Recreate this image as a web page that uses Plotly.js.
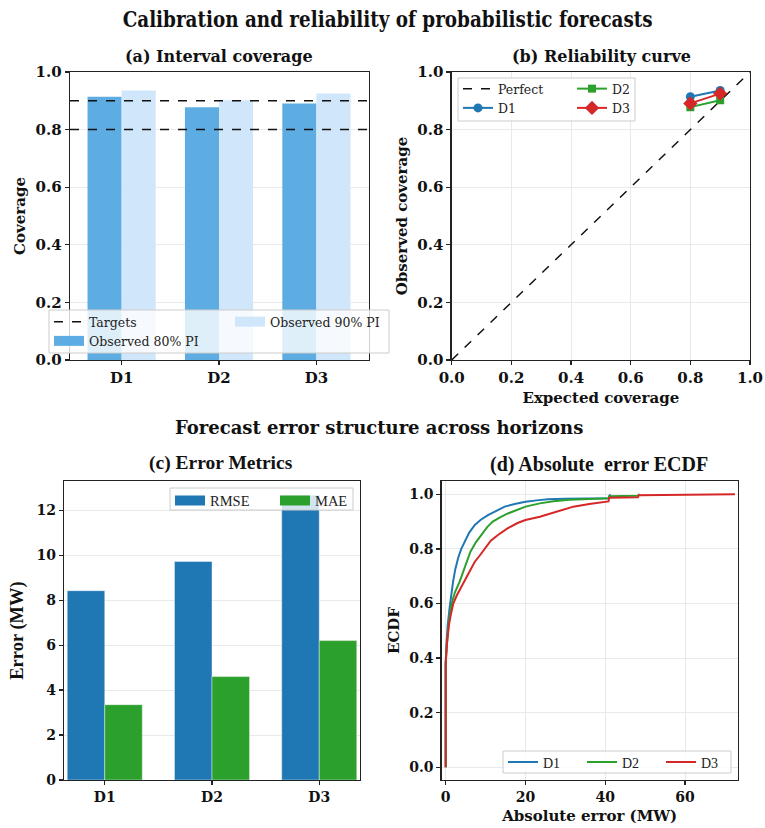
<!DOCTYPE html>
<html>
<head>
<meta charset="utf-8">
<script src="https://cdn.plot.ly/plotly-3.0.1.min.js"></script>
<style>
html,body{margin:0;padding:0;background:#fff;}
#chart{width:765px;height:828px;}
</style>
</head>
<body>
<div id="chart"></div>
<script>
// ---------------- DATA ----------------
const horizons = ['D1', 'D2', 'D3'];
const targets = [0.8, 0.9];
const cov80 = [0.914, 0.878, 0.891];
const cov90 = [0.936, 0.902, 0.925];
const expectedLevels = [0.8, 0.9];
const perfectX = [0, 1];
const perfectY = [0, 1];
const rmse = [8.42, 9.72, 12.67];
const mae = [3.35, 4.60, 6.20];

const ecdfD1x = [0, 0, 0.2, 0.5, 0.95, 1.4, 1.85, 2.4, 3.1, 3.9, 4.75, 5.9, 7.3, 8.8, 10.6, 12.6, 14.8, 17.3, 20, 22.8, 25.6, 30, 35, 40.9, 41, 41.3];
const ecdfD1y = [0, 0.38, 0.45, 0.52, 0.58, 0.64, 0.68, 0.725, 0.766, 0.80, 0.826, 0.86, 0.888, 0.907, 0.924, 0.94, 0.955, 0.965, 0.973, 0.978, 0.982, 0.984, 0.985, 0.986, 0.993, 1.0];
const ecdfD2x = [0, 0, 0.3, 0.8, 1.5, 2.3, 3.5, 4.8, 6.2, 7.6, 9.0, 10.4, 11.8, 13.5, 15.6, 17.8, 20, 23.6, 27, 31, 36, 40.9, 41, 48.2, 48.4, 48.6];
const ecdfD2y = [0, 0.38, 0.45, 0.53, 0.6, 0.64, 0.68, 0.735, 0.79, 0.825, 0.853, 0.88, 0.9, 0.915, 0.93, 0.944, 0.955, 0.967, 0.975, 0.98, 0.984, 0.986, 0.993, 0.995, 0.999, 1.0];
const ecdfD3x = [0, 0, 0.3, 0.8, 1.3, 1.9, 2.8, 3.7, 4.75, 6.0, 7.3, 8.5, 9.8, 11.3, 13.1, 15.5, 18, 20, 23.6, 27.7, 32, 36, 40.8, 41, 48.2, 48.4, 72.3, 72.5];
const ecdfD3y = [0, 0.38, 0.45, 0.52, 0.56, 0.6, 0.63, 0.655, 0.68, 0.72, 0.753, 0.775, 0.802, 0.83, 0.851, 0.875, 0.895, 0.906, 0.918, 0.935, 0.955, 0.965, 0.974, 0.988, 0.989, 0.997, 0.998, 1.0];

// ---------------- STYLE ----------------
const W = 765, H = 828;
const px = v => v / W;
const py = v => 1 - v / H;
const C_BLUE = '#1f77b4', C_GREEN = '#2ca02c', C_RED = '#d62728';
const C80 = '#5DADE2', C90 = '#D0E6FA';
const SERIF = 'DejaVu Serif';
const TIMES = 'Liberation Serif';
const tickFont = (s) => ({family: SERIF, size: s, color: '#111', weight: 'bold'});
const titleFont = (fam, s) => ({family: fam, size: s, color: '#111', weight: 'bold'});

function axisBase(extra) {
  return Object.assign({
    showline: true, linecolor: '#222', linewidth: 1.3, mirror: true,
    ticks: 'outside', ticklen: 4, tickwidth: 1.2, tickcolor: '#222',
    zeroline: false, gridcolor: '#e9e9e9', gridwidth: 1,
    automargin: false, fixedrange: true
  }, extra);
}

// legend-only swatch (wide rectangle like a patch)
function swatch(name, color, xa, ya, leg) {
  return {type: 'scatter', mode: 'lines', x: [null], y: [null], name: name,
    line: {color: color, width: 10}, xaxis: xa, yaxis: ya, legend: leg, showlegend: true, hoverinfo: 'skip'};
}

// ---------------- TRACES ----------------
const traces = [];
// (a)
traces.push({type: 'scatter', mode: 'lines', x: [null], y: [null], name: 'Targets',
  line: {color: '#111', dash: 'dash', width: 1.5}, xaxis: 'x', yaxis: 'y', legend: 'legend', showlegend: true, hoverinfo: 'skip'});
traces.push({type: 'bar', x: horizons, y: cov80, name: 'Observed 80% PI', width: 0.35, offset: -0.35,
  marker: {color: C80, line: {width: 0}}, xaxis: 'x', yaxis: 'y', showlegend: false});
traces.push({type: 'bar', x: horizons, y: cov90, name: 'Observed 90% PI', width: 0.35, offset: 0,
  marker: {color: C90, line: {width: 0}}, xaxis: 'x', yaxis: 'y', showlegend: false});
traces.push(swatch('Observed 80% PI', C80, 'x', 'y', 'legend'));
traces.push(swatch('Observed 90% PI', C90, 'x', 'y', 'legend2'));
// (b)
traces.push({type: 'scatter', mode: 'lines', x: perfectX, y: perfectY, name: 'Perfect',
  line: {color: '#111', dash: 'dash', width: 1.5}, xaxis: 'x2', yaxis: 'y2', legend: 'legend3'});
const relColors = [C_BLUE, C_GREEN, C_RED];
const relSymbols = ['circle', 'square', 'diamond'];
const relSizes = [9, 8, 11];
const relLegends = ['legend3', 'legend4', 'legend4'];
horizons.forEach((h, i) => {
  traces.push({type: 'scatter', mode: 'lines+markers', x: expectedLevels, y: [cov80[i], cov90[i]], name: h,
    line: {color: relColors[i], width: 2}, marker: {symbol: relSymbols[i], size: relSizes[i], color: relColors[i]},
    xaxis: 'x2', yaxis: 'y2', legend: relLegends[i]});
});
// (c)
traces.push({type: 'bar', x: horizons, y: rmse, name: 'RMSE', width: 0.35, offset: -0.35,
  marker: {color: C_BLUE, line: {width: 0.6, color: 'rgba(255,255,255,0.7)'}}, xaxis: 'x3', yaxis: 'y3', showlegend: false});
traces.push({type: 'bar', x: horizons, y: mae, name: 'MAE', width: 0.35, offset: 0,
  marker: {color: C_GREEN, line: {width: 0.6, color: 'rgba(255,255,255,0.7)'}}, xaxis: 'x3', yaxis: 'y3', showlegend: false});
traces.push(swatch('RMSE', C_BLUE, 'x3', 'y3', 'legend5'));
traces.push(swatch('MAE', C_GREEN, 'x3', 'y3', 'legend5'));
// (d)
const ecdfX = [ecdfD1x, ecdfD2x, ecdfD3x];
const ecdfY = [ecdfD1y, ecdfD2y, ecdfD3y];
horizons.forEach((h, i) => {
  traces.push({type: 'scatter', mode: 'lines', x: ecdfX[i], y: ecdfY[i], name: h,
    line: {color: relColors[i], width: 2}, xaxis: 'x4', yaxis: 'y4', legend: 'legend6'});
});

// ---------------- LAYOUT ----------------
const legBase = (x, y, extra) => Object.assign({
  x: x, y: y, xanchor: 'left', yanchor: 'top', xref: 'paper', yref: 'paper',
  bgcolor: 'rgba(0,0,0,0)', borderwidth: 0, tracegroupgap: 0,
  font: {family: SERIF, size: 12.5, color: '#222'}, orientation: 'v'
}, extra || {});

const shapes = [];
// target lines (a)
targets.forEach(t => shapes.push({type: 'line', xref: 'x domain', yref: 'y', x0: 0, x1: 1, y0: t, y1: t,
  line: {color: '#111', dash: 'dash', width: 1.5}, layer: 'above'}));
// legend boxes
function box(x0, y0, x1, y1) {
  shapes.push({type: 'rect', xref: 'paper', yref: 'paper', x0: px(x0), x1: px(x1), y0: py(y1), y1: py(y0),
    fillcolor: 'rgba(255,255,255,0.8)', line: {color: '#cccccc', width: 1}, layer: 'above'});
}
box(49, 310, 389, 353);
box(458, 78, 635, 121);
box(170, 488, 353, 510);
box(503, 751, 731, 773);

const annotations = [
  {text: 'Calibration and reliability of probabilistic forecasts', x: px(387), y: py(19), xref: 'paper', yref: 'paper',
    showarrow: false, xanchor: 'center', yanchor: 'middle', font: {family: SERIF, size: 22, color: '#111', weight: 'bold'}},
  {text: 'Forecast error structure across horizons', x: px(379), y: py(428), xref: 'paper', yref: 'paper',
    showarrow: false, xanchor: 'center', yanchor: 'middle', font: titleFont(SERIF, 18)},
  {text: '(a) Interval coverage', x: px(219.5), y: py(57), xref: 'paper', yref: 'paper',
    showarrow: false, xanchor: 'center', yanchor: 'middle', font: titleFont(SERIF, 16)},
  {text: '(b) Reliability curve', x: px(601), y: py(57), xref: 'paper', yref: 'paper',
    showarrow: false, xanchor: 'center', yanchor: 'middle', font: titleFont(SERIF, 16)},
  {text: '(c) Error Metrics', x: px(221), y: py(463), xref: 'paper', yref: 'paper',
    showarrow: false, xanchor: 'center', yanchor: 'middle', font: titleFont(TIMES, 19.5)},
  {text: '(d) Absolute  error ECDF', x: px(599), y: py(464), xref: 'paper', yref: 'paper',
    showarrow: false, xanchor: 'center', yanchor: 'middle', font: titleFont(TIMES, 20)}
];

const layout = {
  width: W, height: H,
  margin: {l: 0, r: 0, t: 0, b: 0, pad: 0},
  paper_bgcolor: '#ffffff', plot_bgcolor: '#ffffff',
  showlegend: true,
  barmode: 'overlay',
  font: {family: SERIF, color: '#111'},
  xaxis: axisBase({domain: [px(70), px(369)], anchor: 'y', type: 'category', categoryarray: horizons,
    range: [-0.53, 2.54], showgrid: false, tickfont: tickFont(15)}),
  yaxis: axisBase({domain: [py(360), py(72)], anchor: 'x', range: [0, 1], dtick: 0.2, tickformat: '.1f',
    showgrid: true, tickfont: tickFont(15),
    title: {text: 'Coverage', font: titleFont(SERIF, 15), standoff: 6}}),
  xaxis2: axisBase({domain: [px(451.7), px(750)], anchor: 'y2', range: [0, 1], dtick: 0.2, tickformat: '.1f',
    showgrid: true, tickfont: tickFont(15),
    title: {text: 'Expected coverage', font: titleFont(SERIF, 15), standoff: 6}}),
  yaxis2: axisBase({domain: [py(360), py(72)], anchor: 'x2', range: [0, 1], dtick: 0.2, tickformat: '.1f',
    showgrid: true, tickfont: tickFont(15),
    title: {text: 'Observed coverage', font: titleFont(SERIF, 15), standoff: 6}}),
  xaxis3: axisBase({domain: [px(64), px(360)], anchor: 'y3', type: 'category', categoryarray: horizons,
    range: [-0.38, 2.38], showgrid: false, tickfont: tickFont(14)}),
  yaxis3: axisBase({domain: [py(780), py(481)], anchor: 'x3', range: [0, 13.3], dtick: 2,
    showgrid: true, tickfont: tickFont(14),
    title: {text: 'Error (MW)', font: titleFont(TIMES, 18.5), standoff: 8}}),
  xaxis4: axisBase({domain: [px(441.7), px(737.7)], anchor: 'y4', range: [-1, 73.2], tickvals: [0, 20, 40, 60],
    showgrid: true, tickfont: tickFont(14),
    title: {text: 'Absolute error (MW)', font: titleFont(SERIF, 15), standoff: 6}}),
  yaxis4: axisBase({domain: [py(780), py(481)], anchor: 'x4', range: [-0.047, 1.049], dtick: 0.2, tickformat: '.1f',
    showgrid: true, tickfont: tickFont(14),
    title: {text: 'ECDF', font: titleFont(SERIF, 15), standoff: 6}}),
  legend: legBase(px(49), py(307)),
  legend2: legBase(px(230), py(307)),
  legend3: legBase(px(458), py(74)),
  legend4: legBase(px(572), py(74)),
  legend5: legBase(px(170), py(484.5), {orientation: 'h', font: {family: TIMES, size: 14.5, color: '#222'}, entrywidth: 60}),
  legend6: legBase(px(503), py(746.5), {orientation: 'h', font: {family: TIMES, size: 14, color: '#222'}, entrywidth: 34}),
  shapes: shapes,
  annotations: annotations
};

Plotly.newPlot('chart', traces, layout, {displayModeBar: false, staticPlot: true}).then(() => {
  // emulate the condensed face of the main title by fitting it to its measured width
  const t = document.querySelector('#chart .annotation-text');
  if (t) {
    t.setAttribute('textLength', '530');
    t.setAttribute('lengthAdjust', 'spacingAndGlyphs');
  }
});
</script>
</body>
</html>
